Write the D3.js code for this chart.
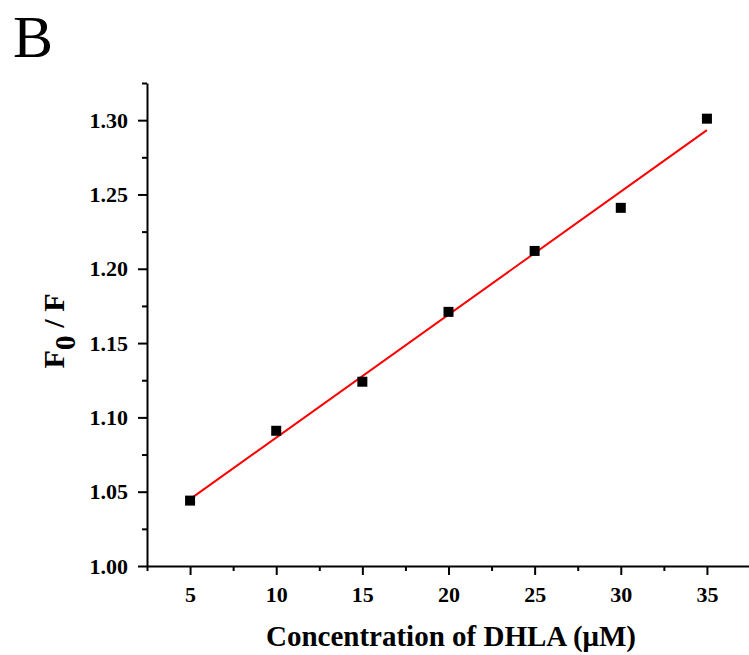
<!DOCTYPE html>
<html>
<head>
<meta charset="utf-8">
<script src="https://cdn.jsdelivr.net/npm/d3@7"></script>
<style>
  body { margin: 0; background: #fff; }
  svg { display: block; }
  text { font-family: "Liberation Serif", "Times New Roman", serif; }
</style>
</head>
<body>
<svg id="chart" width="749" height="655"></svg>
<script>
// Data
const concentrations = [5, 10, 15, 20, 25, 30, 35];
const f0OverF = [1.044, 1.091, 1.124, 1.171, 1.212, 1.241, 1.301];
const xTicks = [5, 10, 15, 20, 25, 30, 35];
const yTicks = [1.0, 1.05, 1.1, 1.15, 1.2, 1.25, 1.3];
const xMinorTicks = [2.5, 7.5, 12.5, 17.5, 22.5, 27.5, 32.5, 37.5];
const yMinorTicks = [1.025, 1.075, 1.125, 1.175, 1.225, 1.275, 1.325];

const svg = d3.select("#chart");

// Scales
const xScale = d3.scaleLinear([2.5, 37.5], [147, 750]);
const yScale = d3.scaleLinear([1.0, 1.325], [566, 83]);

// Least-squares fit of the points (red line)
const n = concentrations.length;
const mx = d3.mean(concentrations);
const my = d3.mean(f0OverF);
let sxy = 0, sxx = 0;
for (let i = 0; i < n; i++) {
  sxy += (concentrations[i] - mx) * (f0OverF[i] - my);
  sxx += (concentrations[i] - mx) ** 2;
}
const slope = sxy / sxx;
const intercept = my - slope * mx;
const fitX = d3.extent(concentrations);

// Panel letter
svg.append("text")
  .attr("x", 13)
  .attr("y", 57)
  .style("font-size", "60px")
  .text("B");

// Axes
const axisColor = "#000";
const tickFont = (g) =>
  g.selectAll(".tick text")
    .style("font-size", "22px")
    .style("font-weight", "bold")
    .style("font-family", "'Liberation Serif', serif")
    .attr("fill", axisColor);

svg.append("g")
  .attr("transform", `translate(0,${yScale(1.0)})`)
  .call(d3.axisBottom(xScale).tickValues(xMinorTicks).tickFormat("").tickSize(5).tickSizeOuter(0))
  .call((g) => g.select(".domain").remove())
  .call((g) => g.selectAll(".tick line").attr("stroke-width", 2));

svg.append("g")
  .attr("transform", `translate(0,${yScale(1.0)})`)
  .call(d3.axisBottom(xScale).tickValues(xTicks).tickFormat(d3.format("d")).tickSize(9).tickSizeOuter(0).tickPadding(11))
  .call((g) => g.select(".domain").attr("stroke-width", 2))
  .call((g) => g.selectAll(".tick line").attr("stroke-width", 2))
  .call(tickFont);

svg.append("g")
  .attr("transform", `translate(${xScale(2.5)},0)`)
  .call(d3.axisLeft(yScale).tickValues(yMinorTicks).tickFormat("").tickSize(5).tickSizeOuter(0))
  .call((g) => g.select(".domain").remove())
  .call((g) => g.selectAll(".tick line").attr("stroke-width", 2));

svg.append("g")
  .attr("transform", `translate(${xScale(2.5)},0)`)
  .call(d3.axisLeft(yScale).tickValues(yTicks).tickFormat(d3.format(".2f")).tickSize(9).tickSizeOuter(0).tickPadding(10))
  .call((g) => g.select(".domain").attr("stroke-width", 2))
  .call((g) => g.selectAll(".tick line").attr("stroke-width", 2))
  .call(tickFont);

// Fit line
svg.append("line")
  .attr("x1", xScale(fitX[0]))
  .attr("y1", yScale(intercept + slope * fitX[0]))
  .attr("x2", xScale(fitX[1]))
  .attr("y2", yScale(intercept + slope * fitX[1]))
  .attr("stroke", "#ff0000")
  .attr("stroke-width", 2);

// Points
const size = 10;
svg.append("g")
  .selectAll("rect")
  .data(d3.range(n))
  .join("rect")
  .attr("x", (i) => xScale(concentrations[i]) - size / 2)
  .attr("y", (i) => yScale(f0OverF[i]) - size / 2)
  .attr("width", size)
  .attr("height", size)
  .attr("fill", "#000");

// Axis titles
svg.append("text")
  .attr("x", 451)
  .attr("y", 646)
  .attr("text-anchor", "middle")
  .style("font-size", "29px")
  .style("font-weight", "bold")
  .text("Concentration of DHLA (\u03bcM)");

const yTitle = svg.append("text")
  .attr("transform", "translate(64,331) rotate(-90)")
  .attr("text-anchor", "middle")
  .style("font-size", "30px")
  .style("font-weight", "bold");
yTitle.append("tspan").text("F");
yTitle.append("tspan").attr("dy", 11).text("0");
yTitle.append("tspan").attr("dy", -11).text(" / F");
</script>
</body>
</html>
